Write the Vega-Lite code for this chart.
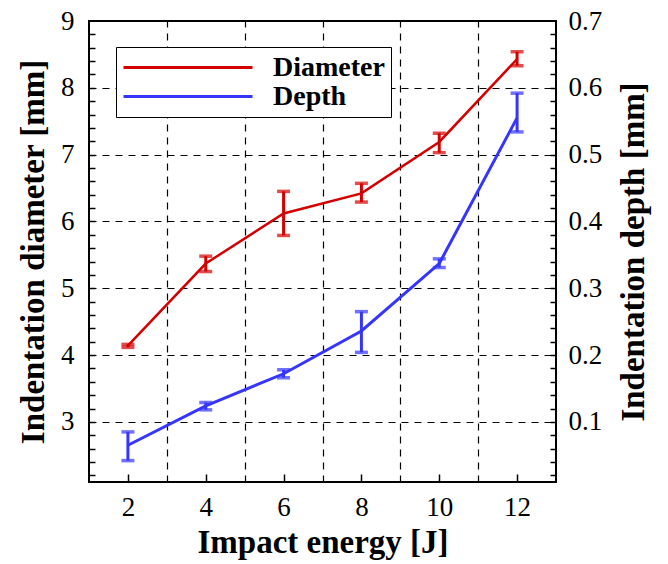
{
  "$schema": "https://vega.github.io/schema/vega-lite/v6.json",
  "autosize": {"type": "none"},
  "width": 467,
  "height": 461,
  "padding": {"left": 89, "top": 21, "right": 112, "bottom": 82},
  "background": "white",
  "config": {
    "view": {"stroke": "black", "strokeWidth": 2},
    "axis": {
      "labelFont": "Liberation Serif, Times New Roman, DejaVu Serif, serif",
      "labelFontSize": 27,
      "labelColor": "black",
      "titleFont": "Liberation Serif, Times New Roman, DejaVu Serif, serif",
      "titleFontSize": 33,
      "titleFontWeight": "bold",
      "titleColor": "black",
      "domain": false,
      "tickColor": "black",
      "tickWidth": 1.5,
      "gridColor": "black",
      "gridWidth": 1.2,
      "gridDash": [7, 6],
      "gridOpacity": 1
    }
  },
  "data": {
    "values": [
      {"energy": 2, "dia": 4.14, "dlo": 4.115, "dhi": 4.16, "dep": 0.065, "qlo": 0.042, "qhi": 0.085},
      {"energy": 4, "dia": 5.37, "dlo": 5.25, "dhi": 5.48, "dep": 0.124, "qlo": 0.118, "qhi": 0.129},
      {"energy": 6, "dia": 6.12, "dlo": 5.79, "dhi": 6.45, "dep": 0.172, "qlo": 0.166, "qhi": 0.178},
      {"energy": 8, "dia": 6.42, "dlo": 6.29, "dhi": 6.57, "dep": 0.236, "qlo": 0.204, "qhi": 0.265},
      {"energy": 10, "dia": 7.19, "dlo": 7.03, "dhi": 7.32, "dep": 0.337, "qlo": 0.331, "qhi": 0.344},
      {"energy": 12, "dia": 8.43, "dlo": 8.33, "dhi": 8.54, "dep": 0.555, "qlo": 0.534, "qhi": 0.592}
    ]
  },
  "layer": [
    {
      "mark": {"type": "line", "strokeWidth": 2.5},
      "encoding": {
        "x": {
          "field": "energy", "type": "quantitative",
          "scale": {"domain": [1, 13], "nice": false, "zero": false},
          "axis": {"orient": "bottom", "values": [2, 4, 6, 8, 10, 12], "ticks": false, "grid": false,
                   "labelPadding": 12, "title": "Impact energy [J]", "titleY": 70, "titleBaseline": "alphabetic"}
        },
        "y": {
          "field": "dia", "type": "quantitative",
          "scale": {"domain": [2.1, 9], "nice": false, "zero": false},
          "axis": {"orient": "left", "values": [3, 4, 5, 6, 7, 8, 9], "ticks": false, "grid": true,
                   "labelPadding": 15, "title": "Indentation diameter [mm]", "titleX": -46, "titleBaseline": "alphabetic", "titleAngle": -90}
        },
        "color": {
          "datum": "Diameter",
          "scale": {"domain": ["Diameter", "Depth"], "range": ["#d40000", "#3535ff"]},
          "legend": {
            "title": null,
            "orient": "none",
            "legendX": 27,
            "legendY": 26,
            "symbolType": "stroke",
            "symbolSize": 16641,
            "symbolStrokeWidth": 3,
            "clipHeight": 29,
            "rowPadding": 0,
            "padding": 6,
            "labelOffset": 19,
            "labelFont": "Liberation Serif, Times New Roman, DejaVu Serif, serif",
            "labelFontSize": 28,
            "labelFontWeight": "bold",
            "labelColor": "black",
            "strokeColor": "black",
            "fillColor": "white",
            "cornerRadius": 0
          }
        }
      }
    },
    {
      "mark": {"type": "errorbar", "color": "#d40000", "thickness": 3, "rule": {"strokeWidth": 3}, "ticks": {"size": 13, "thickness": 3.5, "color": "#d40000"}},
      "encoding": {
        "x": {
          "field": "energy", "type": "quantitative",
          "scale": {"domain": [1, 13], "nice": false, "zero": false},
          "axis": {"orient": "top", "values": [3, 5, 7, 9, 11], "ticks": false, "labels": false, "grid": true, "title": null}
        },
        "y": {
          "field": "dlo", "type": "quantitative",
          "scale": {"domain": [2.1, 9], "nice": false, "zero": false},
          "axis": {"orient": "left", "values": [2.2, 2.4, 2.6, 2.8, 3, 3.2, 3.4, 3.6, 3.8, 4, 4.2, 4.4, 4.6, 4.8, 5, 5.2, 5.4, 5.6, 5.8, 6, 6.2, 6.4, 6.6, 6.8, 7, 7.2, 7.4, 7.6, 7.8, 8, 8.2, 8.4, 8.6, 8.8],
                   "ticks": true, "tickSize": -6, "labels": false, "grid": false, "title": null}
        },
        "y2": {"field": "dhi"}
      }
    },
    {
      "mark": {"type": "line", "strokeWidth": 3},
      "encoding": {
        "x": {
          "field": "energy", "type": "quantitative",
          "scale": {"domain": [1, 13], "nice": false, "zero": false},
          "axis": null
        },
        "y": {
          "field": "dep", "type": "quantitative",
          "scale": {"domain": [0.01, 0.7], "nice": false, "zero": false},
          "axis": {"orient": "right", "values": [0.1, 0.2, 0.3, 0.4, 0.5, 0.6, 0.7], "ticks": false, "grid": false,
                   "labelPadding": 12, "title": "Indentation depth [mm]", "titleX": 87, "titleBaseline": "alphabetic", "titleAngle": -90}
        },
        "color": {"datum": "Depth"}
      }
    },
    {
      "mark": {"type": "errorbar", "color": "#3535ff", "thickness": 3, "rule": {"strokeWidth": 3}, "ticks": {"size": 13, "thickness": 3.5, "color": "#3535ff"}},
      "encoding": {
        "x": {
          "field": "energy", "type": "quantitative",
          "scale": {"domain": [1, 13], "nice": false, "zero": false},
          "axis": {"orient": "bottom", "values": [2, 4, 6, 8, 10, 12], "ticks": true, "tickSize": -8, "labels": false, "grid": false, "title": null}
        },
        "y": {
          "field": "qlo", "type": "quantitative",
          "scale": {"domain": [0.01, 0.7], "nice": false, "zero": false},
          "axis": {"orient": "right", "values": [0.02, 0.04, 0.06, 0.08, 0.1, 0.12, 0.14, 0.16, 0.18, 0.2, 0.22, 0.24, 0.26, 0.28, 0.3, 0.32, 0.34, 0.36, 0.38, 0.4, 0.42, 0.44, 0.46, 0.48, 0.5, 0.52, 0.54, 0.56, 0.58, 0.6, 0.62, 0.64, 0.66, 0.68],
                   "ticks": true, "tickSize": -6, "labels": false, "grid": false, "title": null}
        },
        "y2": {"field": "qhi"}
      }
    }
  ],
  "resolve": {"scale": {"y": "independent"}, "axis": {"x": "independent", "y": "independent"}}
}
